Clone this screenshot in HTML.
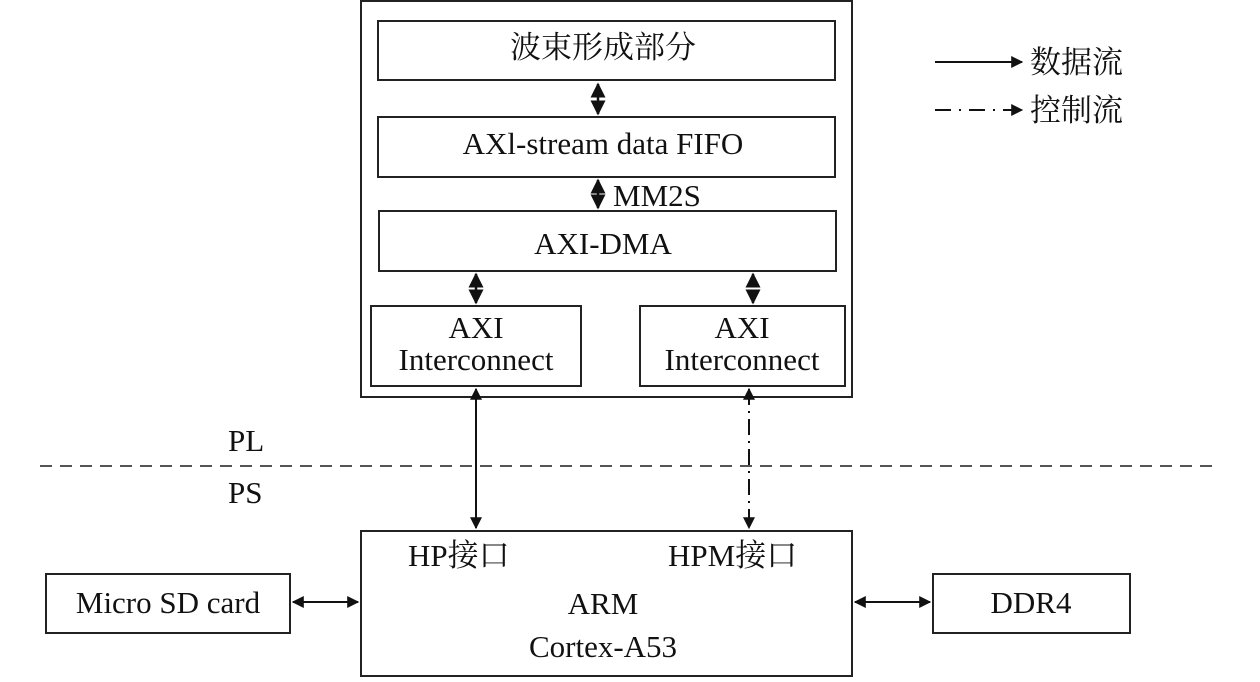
<!DOCTYPE html>
<html><head><meta charset="utf-8"><style>
body{margin:0;background:#fff}
svg text{font-family:"Liberation Serif","Noto Serif CJK SC",serif;fill:#111}
</style></head><body>
<svg width="1260" height="677" viewBox="0 0 1260 677" xmlns="http://www.w3.org/2000/svg">
<defs>
<marker id="a" viewBox="0 0 10 10" refX="9" refY="5" markerWidth="6" markerHeight="6" orient="auto-start-reverse"><path d="M0,0L10,5L0,10z" fill="#111"/></marker>
</defs>
<g fill="none" stroke="#222" stroke-width="2">
<rect x="361" y="1" width="491" height="396"/>
<rect x="378" y="21" width="457" height="59"/>
<rect x="378" y="117" width="457" height="60"/>
<rect x="379" y="211" width="457" height="60"/>
<rect x="371" y="306" width="210" height="80"/>
<rect x="640" y="306" width="205" height="80"/>
<rect x="361" y="531" width="491" height="145"/>
<rect x="46" y="574" width="244" height="59"/>
<rect x="933" y="574" width="197" height="59"/>
</g>
<g stroke="#111" stroke-width="2.5" fill="none">
<line x1="598" y1="84" x2="598" y2="114" marker-start="url(#a)" marker-end="url(#a)"/>
<line x1="598" y1="180" x2="598" y2="208" marker-start="url(#a)" marker-end="url(#a)"/>
<line x1="476" y1="274" x2="476" y2="303" marker-start="url(#a)" marker-end="url(#a)"/>
<line x1="753" y1="274" x2="753" y2="303" stroke-dasharray="3,6" marker-start="url(#a)" marker-end="url(#a)"/>
<line x1="476" y1="389" x2="476" y2="528" stroke-width="2" marker-start="url(#a)" marker-end="url(#a)"/>
<line x1="749" y1="389" x2="749" y2="528" stroke-width="2" stroke-dasharray="16,6,2,6" marker-start="url(#a)" marker-end="url(#a)"/>
<line x1="293" y1="602" x2="358" y2="602" stroke-width="2" marker-start="url(#a)" marker-end="url(#a)"/>
<line x1="855" y1="602" x2="930" y2="602" stroke-width="2" marker-start="url(#a)" marker-end="url(#a)"/>
<line x1="935" y1="62" x2="1022" y2="62" stroke-width="2" marker-end="url(#a)"/>
<line x1="935" y1="110" x2="1022" y2="110" stroke-width="2" stroke-dasharray="16,8,2,8" marker-end="url(#a)"/>
</g>
<line x1="40" y1="466" x2="1218" y2="466" stroke="#555" stroke-width="2" stroke-dasharray="12,8"/>
<g font-size="31" text-anchor="middle">
<text x="603" y="58">波束形成部分</text>
<text x="603" y="154">AXl-stream data FIFO</text>
<text x="603" y="254">AXI-DMA</text>
<text x="476" y="338">AXI</text>
<text x="476" y="370">Interconnect</text>
<text x="742" y="338">AXI</text>
<text x="742" y="370">Interconnect</text>
<text x="603" y="614">ARM</text>
<text x="603" y="657">Cortex-A53</text>
<text x="168" y="613">Micro SD card</text>
<text x="1031" y="613">DDR4</text>
</g>
<g font-size="31">
<text x="613" y="206">MM2S</text>
<text x="228" y="451">PL</text>
<text x="228" y="503">PS</text>
<text x="408" y="566">HP接口</text>
<text x="668" y="566">HPM接口</text>
<text x="1030" y="73">数据流</text>
<text x="1030" y="121">控制流</text>
</g>
</svg>
</body></html>
